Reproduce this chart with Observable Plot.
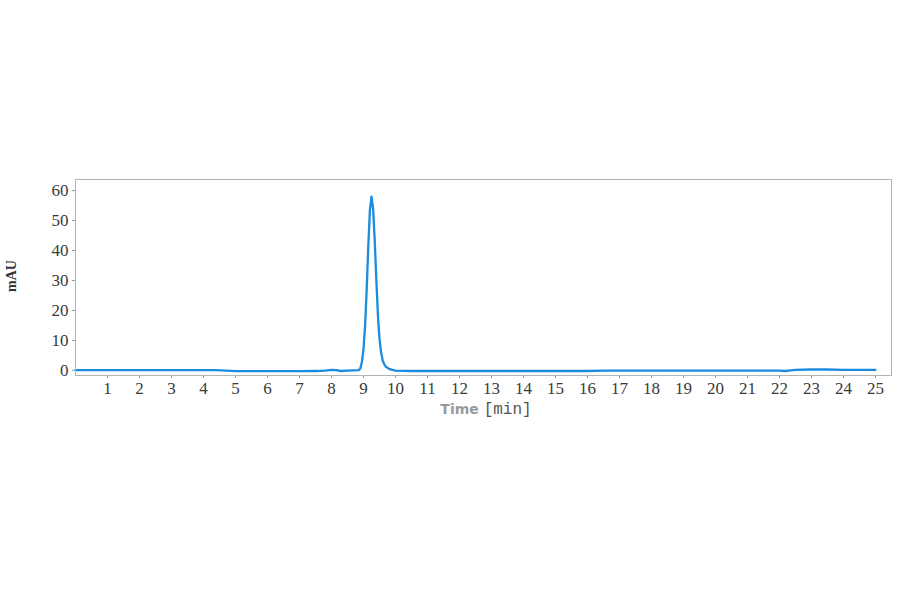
<!DOCTYPE html>
<html>
<head>
<meta charset="utf-8">
<script src="https://cdn.jsdelivr.net/npm/d3@7"></script>
<script src="https://cdn.jsdelivr.net/npm/@observablehq/plot@0.6"></script>
<style>
  html, body { margin: 0; padding: 0; background: #ffffff; }
  #chart svg { display: block; }
</style>
</head>
<body>
<div id="chart"></div>
<script>
// Chromatogram trace: time (min) and absorbance (mAU)
const timeMin = [
  0, 0.5, 1, 1.5, 2, 2.5, 3, 3.5, 4, 4.4, 4.7, 5.0, 5.5, 6, 6.5, 7, 7.5, 7.8, 8.0, 8.15, 8.3, 8.5, 8.7, 8.85,
  8.90, 8.95, 9.00, 9.05, 9.10, 9.15, 9.20, 9.25, 9.30, 9.35, 9.40, 9.45, 9.50, 9.55, 9.60, 9.65, 9.70, 9.80, 9.90,
  10.0, 10.5, 11, 12, 13, 14, 15, 16, 16.5, 17, 18, 19, 20, 21, 22, 22.2, 22.35, 22.5, 23, 23.5, 24, 24.5, 25
];
const absorbance = [
  0.1, 0.1, 0.1, 0.1, 0.1, 0.1, 0.1, 0.1, 0.1, 0.1, -0.1, -0.25, -0.25, -0.25, -0.25, -0.25, -0.2, -0.1, 0.2, 0.1, -0.2, -0.1, 0.0, 0.1,
  0.6, 2.8, 7.0, 15.0, 27.0, 41.5, 53.5, 58, 54.0, 43.5, 30.5, 18.5, 10.5, 6.0, 3.3, 2.0, 1.2, 0.5, 0.15,
  -0.1, -0.2, -0.2, -0.2, -0.2, -0.2, -0.2, -0.2, -0.1, -0.1, -0.1, -0.1, -0.1, -0.1, -0.1, -0.2, 0.0, 0.2, 0.3, 0.3, 0.2, 0.2, 0.2
];
const xTicks = d3.range(1, 26);
const yTicks = [0, 10, 20, 30, 40, 50, 60];

const data = timeMin.map((t, i) => ({t, v: absorbance[i]}));

const serif = "'Liberation Serif', 'DejaVu Serif', serif";

const chart = Plot.plot({
  width: 900,
  height: 594,
  marginLeft: 75,
  marginRight: 9,
  marginTop: 179,
  marginBottom: 219,
  style: {fontFamily: serif, fontSize: "17px", color: "#3a3a3a", background: "transparent"},
  x: {domain: [0, 25.5], ticks: xTicks, tickSize: 3, tickPadding: 3, label: null},
  y: {domain: [-1.7, 63.7], ticks: yTicks, tickSize: 3, tickPadding: 4, label: null},
  marks: [
    Plot.axisX({ticks: xTicks, tickSize: 3, tickPadding: 3, stroke: "#999", fill: "#3a3a3a", label: null}),
    Plot.axisY({ticks: yTicks, tickSize: 3, tickPadding: 4, stroke: "#999", fill: "#3a3a3a", label: null}),
    Plot.line(data, {x: "t", y: "v", stroke: "#1a8ce0", strokeWidth: 2.3}),
    Plot.frame({stroke: "#b4b4b4", strokeWidth: 1})
  ]
});

const svg = d3.select(chart);
// x-axis title
const xt = svg.append("text")
  .attr("x", 486).attr("y", 414)
  .attr("text-anchor", "middle");
xt.append("tspan").text("Time ")
  .attr("font-family", "'DejaVu Sans', sans-serif").attr("font-size", 14)
  .attr("fill", "#9a9a9a").attr("font-weight", "bold");
xt.append("tspan").text("[min]")
  .attr("font-family", "'Liberation Mono', 'DejaVu Sans Mono', monospace").attr("font-size", 16)
  .attr("fill", "#555");
// y-axis title
svg.append("text")
  .attr("transform", "translate(16,276) rotate(-90)")
  .attr("text-anchor", "middle")
  .attr("font-family", serif).attr("font-size", 14).attr("font-weight", "bold")
  .attr("fill", "#333")
  .text("mAU");

document.getElementById("chart").appendChild(chart);
</script>
</body>
</html>
